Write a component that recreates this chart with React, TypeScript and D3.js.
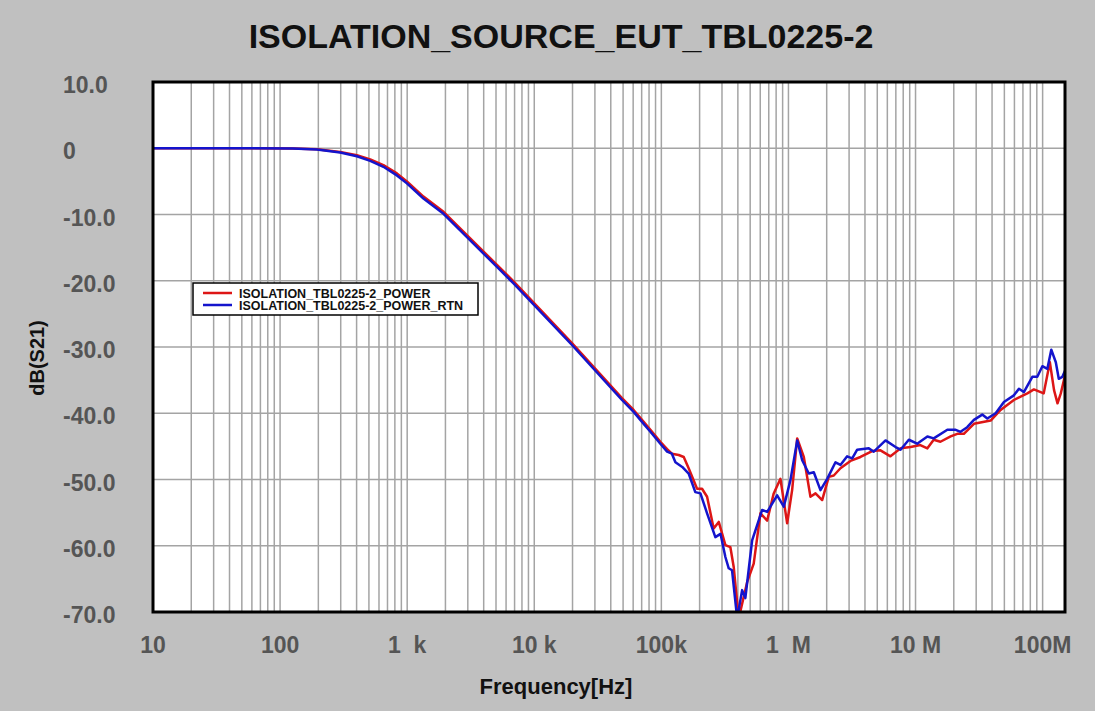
import React from 'react';
import * as d3 from 'd3';

// frequency [Hz], dB(S21)
const powerTrace: [number, number][] = [
  [10, 0], [58, 0], [126, -0.03], [195, -0.15], [297, -0.55], [402, -1.05], [512, -1.7],
  [650, -2.55], [830, -3.8], [995, -5.0], [1343, -7.3], [1932, -9.6], [2953, -13.1],
  [3990, -15.6], [5400, -18.1], [6870, -20.1], [19800, -29.4], [49000, -37.7], [60500, -39.5],
  [72600, -41.3], [82000, -42.5], [98200, -44.3], [111000, -45.4], [121000, -46.1],
  [137000, -46.3], [150000, -46.6], [164000, -48.3], [191000, -51.4], [209000, -51.4],
  [229000, -52.6], [258000, -57.4], [283000, -56.4], [319000, -59.9], [349000, -60.2],
  [371000, -63.2], [406000, -71], [473000, -65.5], [533000, -62.7], [602000, -55.1],
  [680000, -56.2], [766000, -52.1], [865000, -49.9], [977000, -56.6], [1069000, -51.6],
  [1172000, -43.8], [1321000, -46.6], [1490000, -52.6], [1633000, -52.1], [1842000, -53.1],
  [2077000, -49.6], [2274000, -49.4], [2566000, -48.3], [3076000, -47.2], [3688000, -46.6],
  [4560000, -45.7], [5300000, -45.6], [6350000, -46.5], [7622000, -45.3], [9140000, -45.1],
  [10.9e6, -44.8], [12.4e6, -45.3], [13.9e6, -44.0], [15.7e6, -44.3], [18.9e6, -43.5],
  [21.3e6, -43.1], [24.0e6, -43.1], [28.8e6, -41.6], [39e6, -41.1], [46.7e6, -39.5],
  [59.4e6, -38.0], [75.8e6, -37.0], [85.4e6, -36.4], [102e6, -37.0], [114e6, -32.3],
  [123e6, -36.5], [131e6, -38.5], [139e6, -37.0], [150e6, -34.3],
];

const rtnTrace: [number, number][] = [
  [10, 0], [58, 0], [126, -0.05], [195, -0.2], [297, -0.65], [402, -1.2], [512, -1.9],
  [650, -2.8], [830, -4.1], [995, -5.3], [1343, -7.6], [1932, -9.9], [2953, -13.4],
  [3990, -15.9], [5400, -18.4], [6870, -20.4], [19800, -29.7], [49000, -38.0], [60500, -39.8],
  [72600, -41.6], [82000, -42.8], [98200, -44.6], [111000, -45.8], [121000, -46.1],
  [129000, -47.4], [146000, -48.1], [164000, -49.1], [185000, -51.9], [203000, -52.1],
  [229000, -55.1], [266000, -58.7], [292000, -58.2], [319000, -61.7], [339000, -63.4],
  [360000, -63.7], [395000, -71], [432000, -66.7], [458000, -67.9], [486000, -63.7],
  [518000, -59.2], [621000, -54.6], [680000, -54.9], [815000, -52.4], [919000, -54.1],
  [1037000, -50.1], [1172000, -44.1], [1283000, -47.1], [1446000, -49.1], [1583000, -48.9],
  [1786000, -51.6], [2018000, -49.9], [2345000, -47.4], [2566000, -47.8], [2897000, -46.5],
  [3175000, -46.8], [3475000, -45.5], [4290000, -45.3], [4696000, -45.8], [5805000, -44.1],
  [6964000, -45.1], [7622000, -45.5], [8856000, -44.0], [10.3e6, -44.6], [12.4e6, -43.5],
  [13.9e6, -43.8], [17.8e6, -42.5], [20.7e6, -42.5], [22.6e6, -42.8], [25.5e6, -42.1],
  [28.8e6, -41.0], [33.5e6, -40.2], [36.7e6, -40.8], [42.7e6, -40.0], [49.6e6, -38.3],
  [59.4e6, -37.3], [65.1e6, -36.3], [71.2e6, -36.8], [83e6, -34.5], [90.8e6, -34.5],
  [99.5e6, -32.9], [109e6, -33.3], [117e6, -30.4], [127e6, -32.3], [134e6, -34.8],
  [143e6, -34.5], [150e6, -33.6],
];

const seriesNames = ['ISOLATION_TBL0225-2_POWER', 'ISOLATION_TBL0225-2_POWER_RTN'];
const seriesColors = ['#dd1616', '#1414cc'];

const xTickValues = [10, 100, 1e3, 1e4, 1e5, 1e6, 1e7, 1e8];
const xTickLabels = ['10', '100', '1  k', '10 k', '100k', '1  M', '10 M', '100M'];
const yTickValues = [10, 0, -10, -20, -30, -40, -50, -60, -70];
const yTickLabels = ['10.0', '0', '-10.0', '-20.0', '-30.0', '-40.0', '-50.0', '-60.0', '-70.0'];

const W = 1095;
const H = 711;
const plot = { left: 153, right: 1065, top: 82, bottom: 612 };

const App = () => {
  const x = d3.scaleLog().domain([10, 150e6]).range([plot.left, plot.right]);
  const y = d3.scaleLinear().domain([-70, 10]).range([plot.bottom, plot.top]);

  const line = d3.line<[number, number]>()
    .x((d) => x(d[0]))
    .y((d) => y(d[1]));

  // minor + major log grid
  const gridX: number[] = [];
  for (let e = 1; e <= 8; e++) {
    for (let m = 1; m <= 9; m++) {
      const v = m * Math.pow(10, e);
      if (v > 10 && v < 150e6) gridX.push(v);
    }
  }

  const font = '"Liberation Sans", Arial, sans-serif';

  return (
    <svg width={W} height={H} style={{ position: 'fixed', left: 0, top: 0 }}>
      <defs>
        <clipPath id="plotClip">
          <rect x={plot.left} y={plot.top} width={plot.right - plot.left} height={plot.bottom - plot.top} />
        </clipPath>
      </defs>
      <rect x={0} y={0} width={W} height={H} fill="#c0c0c0" />

      <text x={561} y={48} textAnchor="middle" fontFamily={font} fontWeight="bold" fontSize={34} fill="#111">
        ISOLATION_SOURCE_EUT_TBL0225-2
      </text>

      <rect x={plot.left} y={plot.top} width={plot.right - plot.left} height={plot.bottom - plot.top} fill="#fff" />

      <g stroke="#a4a4a4" strokeWidth={1.5}>
        {gridX.map((v) => (
          <line key={'gx' + v} x1={x(v)} x2={x(v)} y1={plot.top} y2={plot.bottom} />
        ))}
        {yTickValues.map((v) => (
          <line key={'gy' + v} x1={plot.left} x2={plot.right} y1={y(v)} y2={y(v)} />
        ))}
      </g>

      <g clipPath="url(#plotClip)" fill="none" strokeWidth={2.5} strokeLinejoin="round">
        <path d={line(powerTrace) || ''} stroke={seriesColors[0]} />
        <path d={line(rtnTrace) || ''} stroke={seriesColors[1]} />
      </g>

      <rect x={plot.left} y={plot.top} width={plot.right - plot.left} height={plot.bottom - plot.top}
        fill="none" stroke="#000" strokeWidth={3} />

      <g fontFamily={font} fontWeight="bold" fontSize={23} fill="#555">
        {yTickValues.map((v, i) => (
          <text key={'yl' + v} x={63} y={y(v) + 11}>{yTickLabels[i]}</text>
        ))}
        {xTickValues.map((v, i) => (
          <text key={'xl' + v} x={x(v)} y={653} textAnchor="middle" style={{ whiteSpace: 'pre' }}>
            {xTickLabels[i]}
          </text>
        ))}
      </g>

      <text x={556} y={694} textAnchor="middle" fontFamily={font} fontWeight="bold" fontSize={22} fill="#111">
        Frequency[Hz]
      </text>
      <text transform="translate(44,358) rotate(-90)" textAnchor="middle" fontFamily={font}
        fontWeight="bold" fontSize={20} fill="#111">
        dB(S21)
      </text>

      <g>
        <rect x={193} y={283} width={285} height={32} fill="#fff" stroke="#000" strokeWidth={1.5} />
        {seriesNames.map((name, i) => (
          <g key={name}>
            <line x1={203} x2={232} y1={293 + i * 12} y2={293 + i * 12} stroke={seriesColors[i]} strokeWidth={2.5} />
            <text x={239} y={297.5 + i * 12} fontFamily={font} fontWeight="bold" fontSize={12.5} fill="#111">
              {name}
            </text>
          </g>
        ))}
      </g>
    </svg>
  );
};

export default App;
